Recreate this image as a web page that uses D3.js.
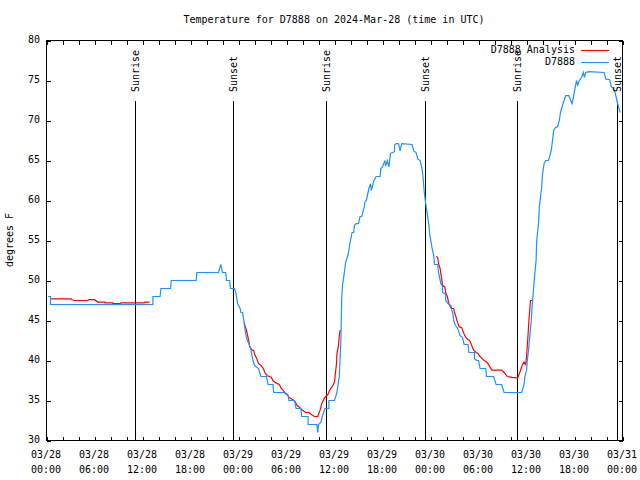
<!DOCTYPE html>
<html>
<head>
<meta charset="utf-8">
<script src="https://cdn.jsdelivr.net/npm/d3@7"></script>
<style>
  html, body { margin: 0; padding: 0; background: #fff; }
  svg { display: block; }
  text { font-family: "DejaVu Sans Mono", "Liberation Mono", monospace; font-size: 10px; fill: #000; }
</style>
</head>
<body>
<svg id="chart" width="640" height="480"></svg>
<script>
// ---------------- DATA ----------------
const chartTitle = "Temperature for D7888 on 2024-Mar-28 (time in UTC)";
const yLabel = "degrees F";
const seriesNames = ["D7888 Analysis", "D7888"];

// x tick labels (every 6 hours from 03/28 00:00 UTC)
const xTickHours = [0, 6, 12, 18, 24, 30, 36, 42, 48, 54, 60, 66, 72];
const xTickDates = ["03/28","03/28","03/28","03/28","03/29","03/29","03/29","03/29","03/30","03/30","03/30","03/30","03/31"];
const xTickTimes = ["00:00","06:00","12:00","18:00","00:00","06:00","12:00","18:00","00:00","06:00","12:00","18:00","00:00"];
const yTicks = [30, 35, 40, 45, 50, 55, 60, 65, 70, 75, 80];

// sunrise / sunset events (hours since 03/28 00:00 UTC)
const eventHours = [11.1, 23.4, 35.04, 47.4, 58.9, 71.4];
const eventNames = ["Sunrise", "Sunset", "Sunrise", "Sunset", "Sunrise", "Sunset"];

// D7888 observations (hours, degrees F)
const obsHours = [0.2,0.5,0.5,13.3,13.3,14.2,14.3,15.5,15.6,18.7,18.8,21.5,21.8,22.0,22.4,22.5,22.9,23.0,23.5,23.7,23.9,24.2,24.3,24.5,24.7,24.8,25.0,25.3,25.5,25.8,26.0,26.5,26.8,27.5,27.7,28.3,28.4,29.7,30.2,30.3,31.0,31.2,31.8,31.9,32.7,32.7,33.8,33.9,34.0,34.3,34.5,34.8,35.3,35.3,36.0,36.3,36.6,36.8,36.9,37.0,37.3,37.4,37.7,37.8,37.9,38.2,38.4,38.5,38.7,39.0,39.2,39.4,39.7,39.8,40.0,40.3,40.5,40.6,40.9,41.2,41.7,41.8,42.0,42.3,42.4,42.6,42.8,43.0,43.5,43.5,43.7,44.0,44.2,44.4,45.7,45.9,46.2,46.4,46.7,46.9,47.0,47.1,47.2,47.4,47.6,47.8,47.9,48.1,48.2,48.4,48.5,48.9,49.0,49.3,49.5,49.5,49.9,49.9,50.2,50.6,50.6,50.8,50.9,51.1,51.4,51.7,52.0,52.2,52.7,52.8,53.5,53.5,53.8,54.0,54.2,54.9,55.0,55.9,56.2,56.9,57.2,59.4,59.7,59.8,60.0,60.1,60.25,60.4,60.6,60.7,60.9,61.1,61.2,61.25,61.3,61.5,61.6,61.75,61.9,62.0,62.2,62.4,62.75,63.1,63.25,63.4,63.6,63.9,64.1,64.25,64.5,64.7,64.9,65.3,65.7,65.9,66.1,66.25,66.4,66.6,66.75,66.9,67.1,67.25,67.4,67.8,69.7,69.9,70.4,70.6,70.9,71.1,71.3,71.5,71.7];
const obsTemps = [48,48,47,47,48,48,49,49,50,50,51,51,52,51,51,50,50,49,49,48.3,47.1,46.5,46,46,44.8,44,42.8,42.1,41.6,40,39.4,39,38,38,37,37,36,36,35.6,35,35,34,34,33,33,32,32,31,32,32.3,33.1,34,34,35,35,36,38,42.5,47.7,49.4,51.5,52.3,53.25,53.75,54.5,56,56,56.9,57.1,57.1,58,58,59.1,59.8,60.1,61.5,62.1,61.25,62.4,63,63,64,64.2,65,64.3,65,64.2,65.9,66.1,66.9,67.1,67.1,66.2,67.1,67,66.2,66,65.2,65,64.2,63.5,62.5,61.25,59.6,58.3,56.9,55.8,54.6,54,53.1,52,52,51,49.6,49.3,48.5,48.3,47.5,47.1,46.8,46.5,45.8,45,44.4,44,43.1,42.9,42,42,41,41,40.2,40,40,39,39,38,38,37,37,36,36,37,38,38.75,40,41.25,42.9,45,46.7,49.2,51.5,52.5,54.2,55.2,57.1,59.2,60.4,61.7,63.3,64.6,65,65,66.25,67.5,68.75,69.1,69.25,70,71,71.9,72.5,73.1,73.1,72.1,73.1,74.2,75,74.4,75,75.2,75.4,76,75.4,76,76.1,76,75.2,75.1,74.2,74,73.4,72.5,71.7,71];

// D7888 Analysis (hours, degrees F); null marks a gap
const anaHours = [0.6,3.1,3.2,3.5,5.1,5.3,6.0,6.4,7.3,7.3,8.3,8.3,9.2,9.3,12.2,12.3,12.9,
  13.0,
  24.7,25.0,25.3,25.4,25.7,25.9,26.0,26.3,26.5,26.8,27.1,27.3,27.6,28.1,28.3,28.7,29.1,29.3,29.6,29.8,30.1,30.3,30.8,31.1,31.3,31.6,31.96,32.4,32.8,33.2,33.5,33.9,34.2,34.4,34.7,34.9,35.2,35.4,35.7,35.8,36.0,36.1,36.25,36.3,36.5,36.6,36.7,36.8,
  36.9,
  48.7,48.9,49.0,49.2,49.4,49.5,49.8,49.9,50.1,50.3,50.6,50.9,51.0,51.2,51.4,51.6,51.9,52.2,52.4,52.7,52.9,53.2,53.4,53.7,53.9,54.2,54.4,54.7,54.9,55.2,55.4,55.7,56.9,57.2,57.6,58.2,58.9,59.0,59.25,59.5,59.7,59.9,60.0,60.2,60.3,60.4,60.5,60.8];
const anaTemps = [47.7,47.7,47.6,47.5,47.5,47.6,47.6,47.3,47.3,47.2,47.2,47.1,47.1,47.2,47.2,47.3,47.3,
  null,
  44.7,43.75,42.4,41.7,41.3,41.25,40.8,40.2,39.6,39.4,39,38.5,38.1,37.9,37.5,37.2,37,36.6,36.25,35.96,35.75,35.4,35.1,34.8,34.4,34.2,33.8,33.5,33.5,33.2,33.0,33,33.8,34.6,35.2,35.5,35.8,36.3,36.75,36.9,37.3,38.3,39.6,40.8,41.9,43.1,43.75,43.75,
  null,
  53.0,52.9,52.1,51.5,50.2,49.4,49.2,48.5,48.0,47.1,46.5,46.5,46.0,45.4,44.7,44.2,44.1,43.3,42.9,42.6,42.5,41.75,41.3,41.0,40.9,40.5,40.3,40,39.9,39.6,39.2,38.8,38.8,38.5,38,37.9,37.8,38.1,38.75,39.5,39.8,39.5,40.4,43.3,45,46.25,47.5,47.5];

// ---------------- CHART ----------------
const svg = d3.select("#chart");
const pL = 46, pR = 622, pT = 40, pB = 440;
const x = d3.scaleLinear().domain([0, 72]).range([pL, pR]);
const y = d3.scaleLinear().domain([30, 80]).range([pB, pT]);
const g = svg.append("g").attr("transform", "translate(0.5,0.5)");

// title
svg.append("text").attr("x", (pL + pR) / 2).attr("y", 20)
  .attr("text-anchor", "middle").attr("dominant-baseline", "middle").text(chartTitle);

// y label
svg.append("text").attr("transform", `translate(10,240) rotate(-90)`)
  .attr("text-anchor", "middle").attr("dominant-baseline", "middle").text(yLabel);

// minor x ticks every 2 hours (inward), bottom & top
const minorHours = d3.range(0, 73, 2);
const axB = g.append("g").attr("transform", `translate(0,${pB})`)
  .call(d3.axisBottom(x).tickValues(minorHours).tickSize(-4).tickFormat(""));
const axT = g.append("g").attr("transform", `translate(0,${pT})`)
  .call(d3.axisTop(x).tickValues(minorHours).tickSize(-4).tickFormat(""));
const axL = g.append("g").attr("transform", `translate(${pL},0)`)
  .call(d3.axisLeft(y).tickValues(yTicks).tickSize(-4).tickFormat(""));
const axR = g.append("g").attr("transform", `translate(${pR},0)`)
  .call(d3.axisRight(y).tickValues(yTicks).tickSize(-4).tickFormat(""));
[axB, axT, axL, axR].forEach(a => {
  a.selectAll(".domain").remove();
  a.selectAll("line").attr("stroke", "#000").attr("shape-rendering", "crispEdges");
});

// frame
g.append("rect").attr("x", pL).attr("y", pT).attr("width", pR - pL).attr("height", pB - pT)
  .attr("fill", "none").attr("stroke", "#000").attr("shape-rendering", "crispEdges");

// y tick labels
svg.append("g").selectAll("text").data(yTicks).join("text")
  .attr("x", 40).attr("y", d => y(d)).attr("text-anchor", "end")
  .attr("dominant-baseline", "middle").text(d => d);

// x tick labels (two lines)
const xl = svg.append("g").selectAll("g").data(xTickHours).join("g")
  .attr("transform", d => `translate(${x(d)},0)`);
xl.append("text").attr("y", 455).attr("text-anchor", "middle").attr("dominant-baseline", "middle")
  .text((d, i) => xTickDates[i]);
xl.append("text").attr("y", 470).attr("text-anchor", "middle").attr("dominant-baseline", "middle")
  .text((d, i) => xTickTimes[i]);

// sunrise / sunset lines
const ev = g.append("g").selectAll("g").data(eventHours).join("g");
ev.append("line").attr("x1", d => Math.round(x(d))).attr("x2", d => Math.round(x(d)))
  .attr("y1", 100).attr("y2", pB).attr("stroke", "#000").attr("shape-rendering", "crispEdges");
svg.append("g").selectAll("text").data(eventHours).join("text")
  .attr("transform", d => `translate(${Math.round(x(d)) + 0.5},92) rotate(-90)`)
  .attr("text-anchor", "start").attr("dy", "0.35em").text((d, i) => eventNames[i]);

// series
const obsData = obsHours.map((h, i) => [h, obsTemps[i]]);
const anaData = anaHours.map((h, i) => [h, anaTemps[i]]);
const line = d3.line().defined(d => d[1] !== null).x(d => x(d[0])).y(d => y(d[1]));

g.append("path").datum(anaData).attr("d", line)
  .attr("fill", "none").attr("stroke", "#ff0000").attr("stroke-width", 1.2);
g.append("path").datum(obsData).attr("d", line)
  .attr("fill", "none").attr("stroke", "#1e90ff").attr("stroke-width", 1.2);

// legend
const legColors = ["#ff0000", "#1e90ff"];
const leg = svg.append("g").selectAll("g").data(seriesNames).join("g")
  .attr("transform", (d, i) => `translate(0,${50 + i * 12})`);
leg.append("text").attr("x", 575).attr("text-anchor", "end").attr("dominant-baseline", "middle").text(d => d);
leg.append("line").attr("x1", 581).attr("x2", 609).attr("y1", 0.5).attr("y2", 0.5)
  .attr("stroke", (d, i) => legColors[i]).attr("shape-rendering", "crispEdges");
</script>
</body>
</html>
